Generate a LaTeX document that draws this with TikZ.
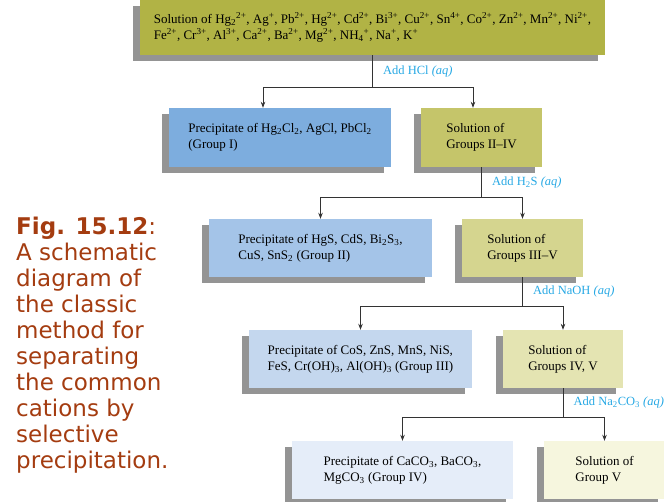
\documentclass[tikz,border=0pt]{standalone}
\usepackage{fontspec}
\setmainfont{Liberation Serif}
\newfontfamily\capfont{DejaVu Sans}
\usepackage{xcolor}
\usepackage{tikz}
\usetikzlibrary{arrows.meta, positioning, calc, shadows}
\definecolor{srcolive}{RGB}{177,179,69}
\definecolor{pptone}{RGB}{125,173,222}
\definecolor{solone}{RGB}{197,197,106}
\definecolor{ppttwo}{RGB}{164,196,232}
\definecolor{soltwo}{RGB}{213,213,143}
\definecolor{pptthree}{RGB}{196,215,238}
\definecolor{solthree}{RGB}{228,228,178}
\definecolor{pptfour}{RGB}{229,237,249}
\definecolor{solfour}{RGB}{246,246,222}
\definecolor{addcyan}{RGB}{38,168,228}
\definecolor{capbrown}{RGB}{164,60,16}
\newcommand{\subs}[1]{\textsubscript{#1}}
\newcommand{\sups}[1]{\textsuperscript{#1}}

\tikzset{
  box/.style={minimum height=58pt, align=left, inner sep=0pt,
    font=\fontsize{13}{16}\selectfont,
    drop shadow={shadow xshift=-7pt, shadow yshift=-6pt, fill=black!60, opacity=0.7}},
  link/.style={line width=0.7pt, black!80},
  addlbl/.style={anchor=west, xshift=7pt, text=addcyan, font=\fontsize{12.5}{14}\selectfont},
}

\begin{document}
\begin{tikzpicture}[x=1pt, y=-1pt, >={Stealth[length=6pt, width=4.5pt]}]
    \useasboundingbox (0,0) rectangle (664,502);

    % caption
    \node[anchor=north west, inner sep=0pt, align=left, text=capbrown,
          font=\capfont\fontsize{23}{26}\selectfont] (cap) at (16,217)
        {\textbf{Fig. 15.12}:\\A schematic\\diagram of\\the classic\\method for\\separating\\the common\\cations by\\selective\\precipitation.};

    % boxes
    \node[box, fill=srcolive, minimum width=465pt, minimum height=55pt] (src) at (372.5,27.5)
        {Solution of Hg\subs{2}\sups{2+}, Ag\sups{+}, Pb\sups{2+}, Hg\sups{2+}, Cd\sups{2+}, Bi\sups{3+}, Cu\sups{2+}, Sn\sups{4+}, Co\sups{2+}, Zn\sups{2+}, Mn\sups{2+}, Ni\sups{2+},\\
         Fe\sups{2+}, Cr\sups{3+}, Al\sups{3+}, Ca\sups{2+}, Ba\sups{2+}, Mg\sups{2+}, NH\subs{4}\sups{+}, Na\sups{+}, K\sups{+}};
    \node[box, fill=pptone, minimum width=222pt, minimum height=59pt] (ppt1) at (280,137.5)
        {Precipitate of Hg\subs{2}Cl\subs{2}, AgCl, PbCl\subs{2}\\(Group I)};
    \node[box, fill=solone, minimum width=121pt, minimum height=59pt] (sol1) at (481.5,137.5)
        {Solution of\\Groups II–IV};
    \node[box, fill=ppttwo, minimum width=223pt] (ppt2) at (320.5,248)
        {Precipitate of HgS, CdS, Bi\subs{2}S\subs{3},\\CuS, SnS\subs{2} (Group II)};
    \node[box, fill=soltwo, minimum width=121pt] (sol2) at (522.5,248)
        {Solution of\\Groups III–V};
    \node[box, fill=pptthree, minimum width=223pt] (ppt3) at (360.5,359)
        {Precipitate of CoS, ZnS, MnS, NiS,\\FeS, Cr(OH)\subs{3}, Al(OH)\subs{3} (Group III)};
    \node[box, fill=solthree, minimum width=120pt] (sol3) at (563,359)
        {Solution of\\Groups IV, V};
    \node[box, fill=pptfour, minimum width=221pt] (ppt4) at (402.5,470)
        {Precipitate of CaCO\subs{3}, BaCO\subs{3},\\MgCO\subs{3} (Group IV)};
    \node[box, fill=solfour, minimum width=121pt] (sol4) at (604.5,470)
        {Solution of\\Group V};

    % connectors
    \draw[link] (src.south) -- node[addlbl] {Add HCl \textit{(aq)}} ++(0,32) coordinate (j1);
    \draw[link,->] (j1) -| ([xshift=-17pt]ppt1.north);
    \draw[link,->] (j1) -| ([xshift=-8.5pt]sol1.north);

    \draw[link] (sol1.south) -- node[addlbl] {Add H\subs{2}S \textit{(aq)}} ++(0,30) coordinate (j2);
    \draw[link,->] (j2) -| (ppt2.north);
    \draw[link,->] (j2) -| (sol2.north);

    \draw[link] (sol2.south) -- node[addlbl] {Add NaOH \textit{(aq)}} ++(0,29) coordinate (j3);
    \draw[link,->] (j3) -| (ppt3.north);
    \draw[link,->] (j3) -| (sol3.north);

    \draw[link] (sol3.south) -- node[addlbl] {Add Na\subs{2}CO\subs{3} \textit{(aq)}} ++(0,29) coordinate (j4);
    \draw[link,->] (j4) -| (ppt4.north);
    \draw[link,->] (j4) -| (sol4.north);
\end{tikzpicture}
\end{document}
